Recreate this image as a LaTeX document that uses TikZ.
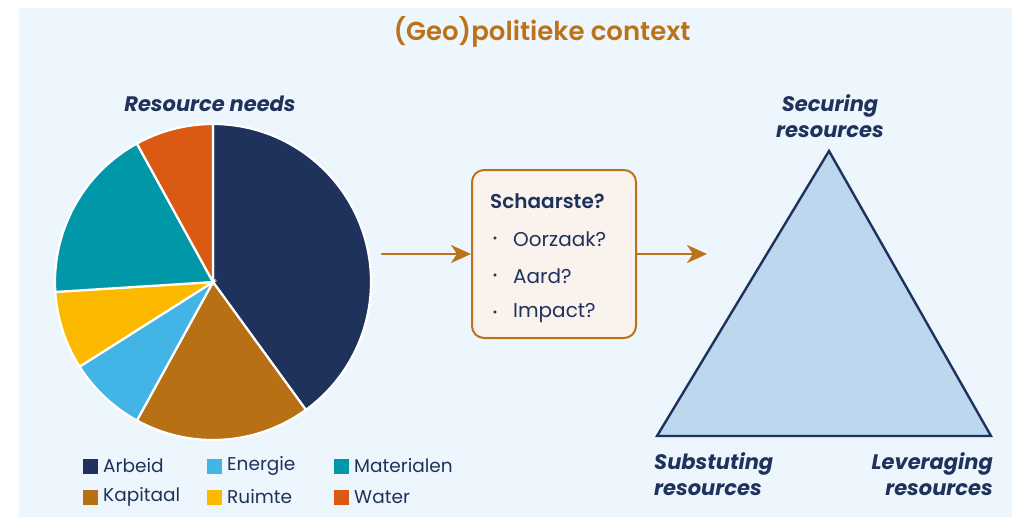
\documentclass[tikz,border=0pt]{standalone}
\usepackage{fontspec}
\setmainfont{Poppins}
\newfontfamily\semibold{Poppins SemiBold}
\usetikzlibrary{arrows.meta}
\definecolor{achtergrond}{HTML}{EEF6FD}
\definecolor{navy}{HTML}{1F325B}
\definecolor{oranje}{HTML}{BC7218}
\definecolor{arbeid}{HTML}{1F325B}
\definecolor{kapitaal}{HTML}{B87015}
\definecolor{energie}{HTML}{42B4E6}
\definecolor{ruimte}{HTML}{FBBA00}
\definecolor{materialen}{HTML}{0097A9}
\definecolor{water}{HTML}{DA5A14}
\definecolor{vakje}{HTML}{FAF2EC}
\definecolor{driehoekblauw}{HTML}{BDD7EE}
\newcommand{\fs}[1]{\fontsize{#1}{#1}\selectfont}
\begin{document}
\begin{tikzpicture}[x=1pt, y=-1pt, line join=round, line cap=round,
  pijl/.style={oranje, line width=2.8pt, -{Stealth[length=20pt, width=18pt, inset=6pt]}},
  legsq/.style={minimum size=15pt, inner sep=0pt},
  legtxt/.style={anchor=west, navy, font=\fs{18.5}},
  hoek/.style={navy, font=\fs{21}\bfseries\itshape, inner sep=0pt}]
\useasboundingbox (0,0) rectangle (1012,517);
\fill[achtergrond] (19,8) rectangle (1012,517);
% titel
\node[oranje, font=\fs{26}\semibold] (titel) at (542,32) {(Geo)politieke context};
% taartdiagram
\node[hoek] (needs) at (210,104) {Resource needs};
\coordinate (taart) at (213,282);
\foreach \a/\b/\c in {90/-54/arbeid, -54/-118.8/kapitaal, -118.8/-147.6/energie,
  -147.6/-176.4/ruimte, -176.4/-241.2/materialen, -241.2/-270/water}
  \filldraw[fill=\c, draw=white, line width=2.2pt, line join=miter]
    (taart) -- ++(\a:158pt) arc[start angle=\a, end angle=\b, radius=158pt] -- cycle;
% legenda
\foreach \x/\y/\c/\t in {90/466/arbeid/Arbeid, 214/466/energie/Energie, 341/466/materialen/Materialen,
  90/497/kapitaal/Kapitaal, 214/497/ruimte/Ruimte, 341/497/water/Water}
{
  \node[legsq, fill=\c] (sq-\c) at (\x,\y) {};
  \node[legtxt] at ([xshift=2pt]sq-\c.east) {\t};
}
% vragen
\node[draw=oranje, fill=vakje, line width=2pt, rounded corners=12pt,
  minimum width=164pt, minimum height=168pt] (vraag) at (554,254) {};
\node[navy, font=\fs{20}\semibold, anchor=base west, inner sep=0pt] (schaarste) at (490,208) {Schaarste?};
\foreach \y/\t in {239/Oorzaak?, 276/Aard?, 313/Impact?}
{
  \node[navy, font=\fs{12}, inner sep=0pt] at (495,\y+1) {\textbullet};
  \node[navy, font=\fs{20}, anchor=west, inner sep=0pt] at (513,\y) {\t};
}
\coordinate (start) at (382,254);
\coordinate (eind) at (707,254);
\draw[pijl] (start) -- (vraag.west);
\draw[pijl] (vraag.east) -- (eind);
% driehoek
\coordinate (top) at (829,151);
\coordinate (lo) at (657,436);
\coordinate (ro) at (991,436);
\filldraw[fill=driehoekblauw, draw=navy, line width=2.4pt, line join=miter] (top) -- (lo) -- (ro) -- cycle;
\node[hoek, align=center] (securing) at (830,116) {Securing\\[5pt]resources};
\node[hoek, align=left, anchor=north west] (subst) at (654,452) {Substuting\\[5pt]resources};
\node[hoek, align=right, anchor=north east] (lever) at (993,452) {Leveraging\\[5pt]resources};
\end{tikzpicture}
\end{document}
